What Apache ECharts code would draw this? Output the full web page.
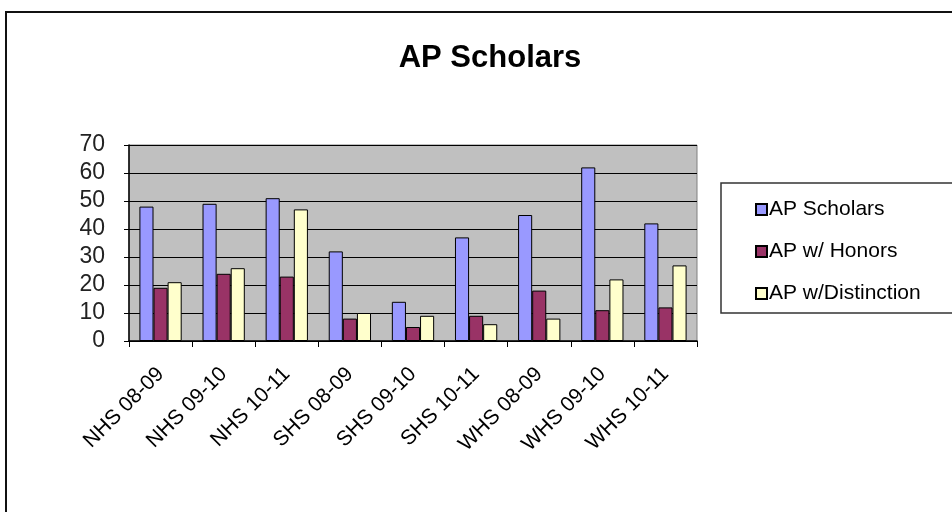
<!DOCTYPE html>
<html>
<head>
<meta charset="utf-8">
<script src="https://cdn.jsdelivr.net/npm/echarts@6/dist/echarts.min.js"></script>
<style>
html,body{margin:0;padding:0;background:#fff;}
#c{width:952px;height:512px;}
</style>
</head>
<body>
<div id="c"></div>
<script>
const categories = ["NHS 08-09","NHS 09-10","NHS 10-11","SHS 08-09","SHS 09-10","SHS 10-11","WHS 08-09","WHS 09-10","WHS 10-11"];
const apScholars = [48, 49, 51, 32, 14, 37, 45, 62, 42];
const apHonors = [19, 24, 23, 8, 5, 9, 18, 11, 12];
const apDistinction = [21, 26, 47, 10, 9, 6, 8, 22, 27];
const yTicks = [0, 10, 20, 30, 40, 50, 60, 70];

const FONT = '"Liberation Sans", Arial, sans-serif';
const chart = echarts.init(document.getElementById('c'));
const barStyle = (c) => ({ color: c, borderColor: '#000', borderWidth: 1 });
chart.setOption({
  animation: false,
  backgroundColor: '#fff',
  title: {
    text: 'AP Scholars',
    left: 485, top: 38, textAlign: 'center',
    textStyle: { fontFamily: FONT, fontSize: 31, fontWeight: 'bold', color: '#000' }
  },
  graphic: [
    { type: 'rect', shape: { x: 6, y: 12, width: 980, height: 540 },
      style: { fill: 'none', stroke: '#111', lineWidth: 2 }, z: -1 },
    { type: 'rect', shape: { x: 721, y: 183, width: 260, height: 130 },
      style: { fill: '#fff', stroke: '#333', lineWidth: 1.5 }, z: 0 }
  ],
  legend: {
    orient: 'vertical',
    left: 750, top: 194,
    itemWidth: 11, itemHeight: 11, itemGap: 21,
    icon: 'rect',
    z: 5,
    textStyle: { fontFamily: FONT, fontSize: 21, color: '#000', padding: [0,0,0,-3] },
    data: ['AP Scholars', 'AP w/ Honors', 'AP w/Distinction']
  },
  grid: {
    left: 129, right: 255, top: 145, bottom: 171,
    show: true, backgroundColor: '#C0C0C0', borderColor: '#808080', borderWidth: 1
  },
  xAxis: {
    type: 'category',
    data: categories,
    axisLine: { lineStyle: { color: '#000', width: 1.5 } },
    axisTick: { show: true, length: 6, lineStyle: { color: '#000' } },
    axisLabel: { rotate: 45, margin: 30, fontFamily: FONT, fontSize: 21, color: '#000', interval: 0 }
  },
  yAxis: {
    type: 'value',
    min: yTicks[0], max: yTicks[yTicks.length - 1], interval: 10,
    axisLine: { show: true, lineStyle: { color: '#000', width: 1.5 } },
    axisTick: { show: true, length: 5, lineStyle: { color: '#000' } },
    splitLine: { show: true, lineStyle: { color: '#000', width: 1.2 } },
    axisLabel: { margin: 24, fontFamily: FONT, fontSize: 23, color: '#222' }
  },
  series: [
    { name: 'AP Scholars', type: 'bar', data: apScholars, itemStyle: barStyle('#9999FF'),
      barGap: '0%', barCategoryGap: '33%' },
    { name: 'AP w/ Honors', type: 'bar', data: apHonors, itemStyle: barStyle('#993366') },
    { name: 'AP w/Distinction', type: 'bar', data: apDistinction, itemStyle: barStyle('#FFFFCC') }
  ]
});
</script>
</body>
</html>
